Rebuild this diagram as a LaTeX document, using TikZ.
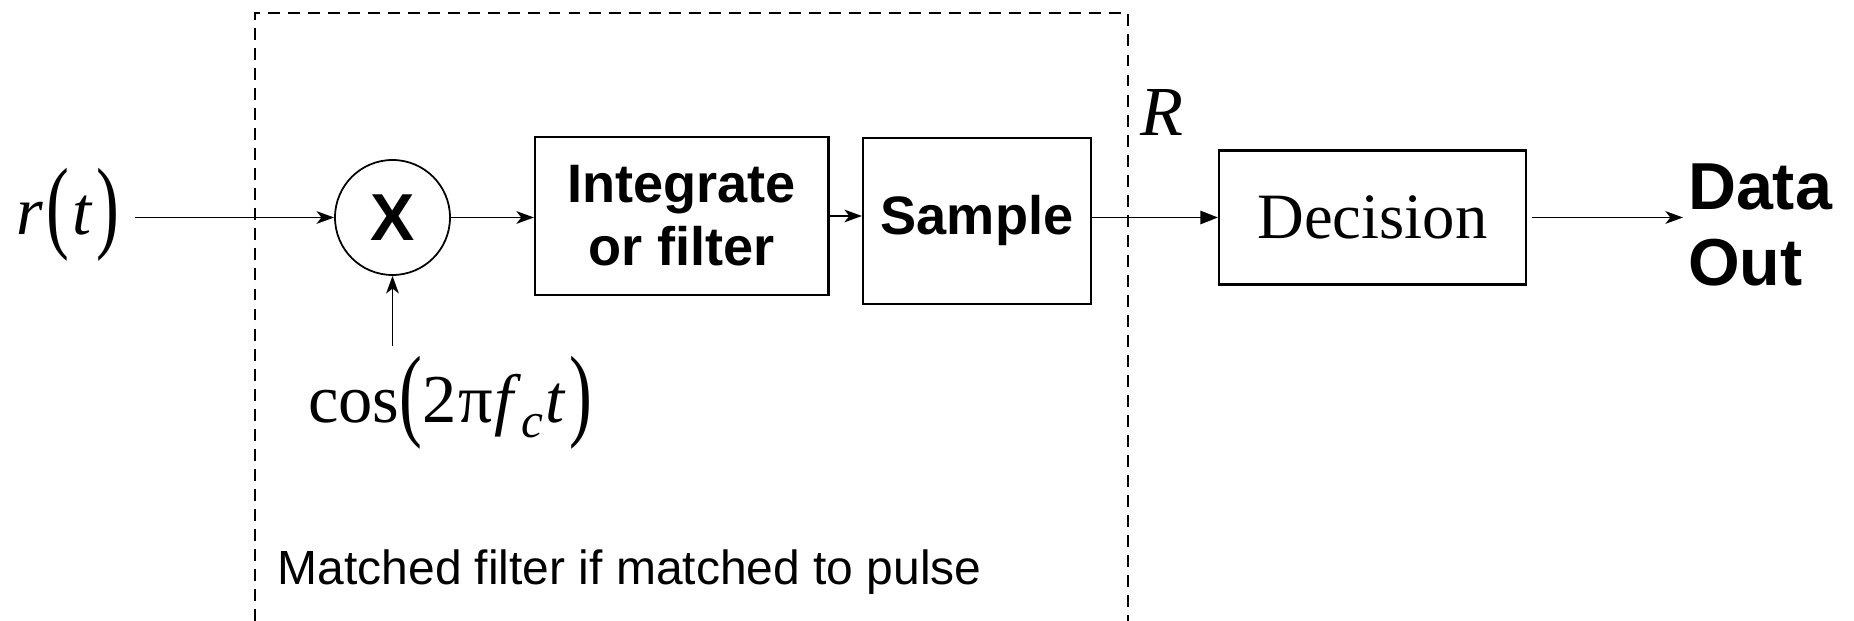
\documentclass[tikz,border=0pt]{standalone}
\usepackage{fontspec}
\setmainfont{Liberation Serif}
\setsansfont{Liberation Sans}
\usetikzlibrary{arrows.meta}
\newcommand{\tallp}[1]{\raisebox{-1.6pt}{\scalebox{1}[1.5]{#1}}}
\begin{document}
\begin{tikzpicture}[x=1cm,y=1cm]
        % Common styles
        \tikzstyle{block}=[draw, line width=0.6pt, inner sep=0pt, align=center]
        \tikzstyle{sig}=[-{Stealth[length=5pt,width=3.6pt,inset=1.4pt]}, line width=0.5pt]
        \tikzstyle{sigfill}=[-{Triangle[length=5pt,width=3.8pt]}, line width=0.5pt]
        \tikzstyle{boxfont}=[font=\sffamily\bfseries\fontsize{15.4}{18}\selectfont]
        \tikzstyle{mathfont}=[font=\fontsize{19.5}{22}\selectfont]
        \useasboundingbox (0,0) rectangle (18.54,6.21);

        % --- Matched filter region (dashed, open at the bottom) ---
        \draw[line width=0.5pt, dash pattern=on 3.4pt off 2.3pt] (2.55,0) -- (2.55,6.08) -- (11.28,6.08) -- (11.28,0);
        \node[anchor=base west, inner sep=0pt, font=\sffamily\fontsize{13.65}{16}\selectfont] (mf) at (2.77,0.36) {Matched filter if matched to pulse};

        % --- Input and mixer ---
        \node[mathfont, inner sep=0pt, outer xsep=0.15cm] (rt) at (0.68,4.06) {\textit{r}\kern1pt\tallp{(}\kern1pt\textit{t}\kern1pt\tallp{)}};
        \node[draw, circle, line width=0.5pt, minimum size=1.15cm, inner sep=0pt, font=\sffamily\bfseries\fontsize{18.9}{20}\selectfont] (mix) at (3.925,4.035) {X};
        \node[mathfont, inner sep=0pt, outer ysep=0.1cm] (carrier) at (4.50,2.18) {cos\tallp{(}2\kern0.5ptπ\kern0.5pt\textit{f}\raisebox{-4.5pt}{\fontsize{14}{14}\selectfont\textit{c}}\kern0.5pt\textit{t}\kern1pt\tallp{)}};

        % --- Blocks ---
        \node[block, boxfont, minimum width=2.935cm, minimum height=1.58cm] (integ) at (6.8175,4.05) {Integrate\\or filter};
        \node[block, boxfont, minimum width=2.28cm, minimum height=1.66cm] (samp) at (9.77,4.004) {Sample};
        \node[block, font=\fontsize{18.4}{20}\selectfont, minimum width=3.07cm, minimum height=1.34cm] (dec) at (13.725,4.035) {Decision};
        \node[align=left, inner sep=0pt, outer xsep=0.05cm, font=\sffamily\bfseries\fontsize{18.9}{21.4}\selectfont] (out) at (17.6,3.96) {Data\\Out};
        \node[font=\itshape\fontsize{20}{20}\selectfont, inner sep=0pt] (R) at (11.615,5.085) {R};

        % --- Connectors ---
        \draw[sig] (rt.east |- mix) -- (mix.west);
        \draw[sig] (carrier.north -| mix.south) -- (mix.south);
        \draw[sig] (mix.east) -- (mix.east -| integ.west);
        \draw[sig] (integ.east) -- (integ.east -| samp.west);
        \draw[sigfill] (samp.east |- dec.west) -- (dec.west);
        \draw[sig, shorten <=0.05cm] (dec.east) -- (out.west |- dec.east);
\end{tikzpicture}
\end{document}
